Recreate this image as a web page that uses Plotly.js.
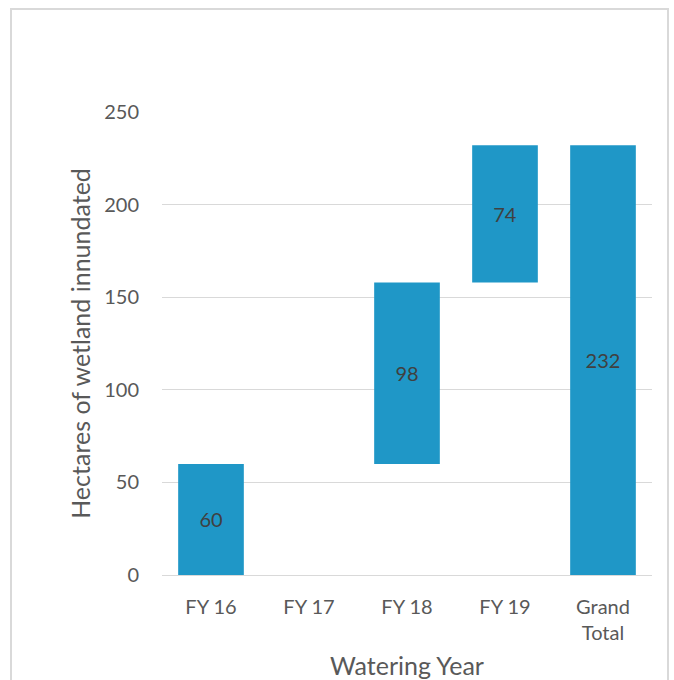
<!DOCTYPE html>
<html>
<head>
<meta charset="utf-8">
<script src="https://cdn.plot.ly/plotly-3.0.1.min.js"></script>
<style>
  html, body { margin: 0; padding: 0; overflow: hidden; background: #fff; }
  #chart { width: 674px; height: 680px; }
  #frame { position: absolute; left: 10px; top: 8px; width: 659px; height: 700px;
           border: 2px solid #d9d9d9; pointer-events: none; box-sizing: border-box; }
</style>
</head>
<body>
<div id="chart"></div>
<div id="frame"></div>
<script>
const categories = ['FY 16', 'FY 17', 'FY 18', 'FY 19', 'Grand<br>Total'];
const measures = ['relative', 'relative', 'relative', 'relative', 'total'];
const values = [60, 0, 98, 74, 0];
const yTickVals = [0, 50, 100, 150, 200, 250];

const totalValue = values.slice(0, 4).reduce((a, b) => a + b, 0);
const labels = values.map((v, i) => measures[i] === 'total' ? String(totalValue) : (v === 0 ? '' : String(v)));

const barColor = '#1f97c7';
const fontFam = 'Lato, "Open Sans", sans-serif';

const trace = {
  type: 'waterfall',
  x: categories,
  y: values,
  measure: measures,
  text: labels,
  textposition: 'inside',
  insidetextanchor: 'middle',
  textfont: { family: fontFam, size: 20, color: '#404040' },
  constraintext: 'none',
  increasing: { marker: { color: barColor, line: { width: 0 } } },
  decreasing: { marker: { color: barColor, line: { width: 0 } } },
  totals: { marker: { color: barColor, line: { width: 0 } } },
  connector: { visible: false },
  hoverinfo: 'none'
};

const layout = {
  width: 674,
  height: 680,
  margin: { l: 162, r: 22, t: 112, b: 105 },
  paper_bgcolor: '#ffffff',
  plot_bgcolor: '#ffffff',
  font: { family: fontFam, color: '#595959', size: 20 },
  showlegend: false,
  waterfallgap: 0.33,
  xaxis: {
    type: 'category',
    showgrid: false,
    showline: false,
    ticks: '',
    ticklabelstandoff: 18,
    tickfont: { family: fontFam, size: 20, color: '#595959' },
    title: { text: 'Watering Year', font: { family: fontFam, size: 25, color: '#595959' }, standoff: 16 }
  },
  yaxis: {
    range: [0, 250],
    tickvals: yTickVals,
    showgrid: true,
    gridcolor: '#d9d9d9',
    gridwidth: 1,
    zeroline: true,
    zerolinecolor: '#d9d9d9',
    zerolinewidth: 1,
    showline: false,
    ticks: '',
    ticklabelstandoff: 22,
    tickfont: { family: fontFam, size: 20, color: '#595959' },
    title: { text: 'Hectares of wetland innundated', font: { family: fontFam, size: 25, color: '#595959' }, standoff: 6 }
  }
};

Plotly.newPlot('chart', [trace], layout, { displayModeBar: false, staticPlot: true });
</script>
</body>
</html>
